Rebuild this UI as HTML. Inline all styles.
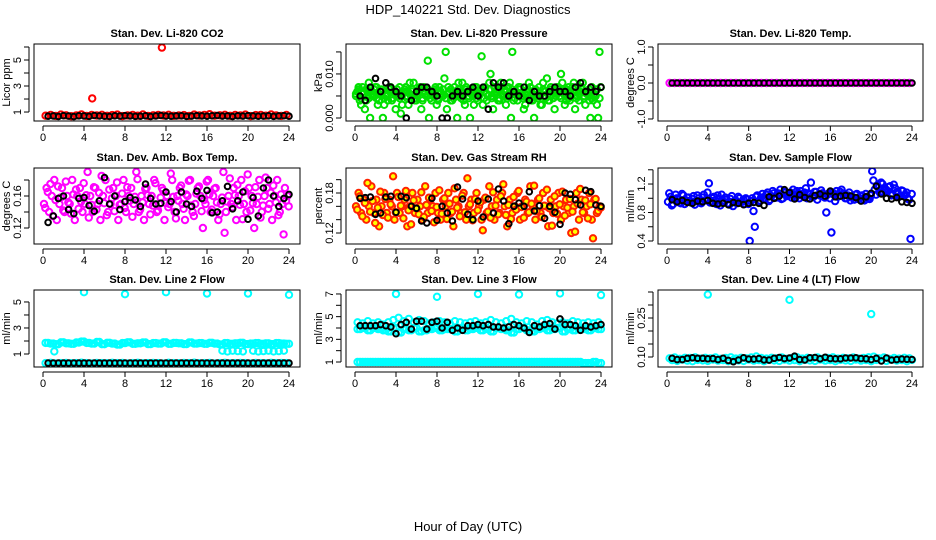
<!DOCTYPE html>
<html><head><meta charset="utf-8"><style>
body{margin:0;background:#fff;}
svg{display:block;font-family:"Liberation Sans",sans-serif;}
</style></head><body>
<svg id="chart" width="936" height="540" viewBox="0 0 936 540">
<text x="468" y="14" text-anchor="middle" font-size="13">HDP_140221 Std. Dev. Diagnostics</text>
<text x="468" y="531" text-anchor="middle" font-size="13">Hour of Day (UTC)</text>
</svg>
<script>
const xTicks=[0,4,8,12,16,20,24];
const co2Red=[0.72,0.78,0.70,0.80,0.75,0.68,0.74,0.82,0.70,0.77,0.73,0.79,0.71,0.76,0.80,0.69,0.74,0.78,0.72,0.81,0.70,0.75,0.77,0.73,0.79,0.71,0.74,0.76,0.70,0.80,0.73,0.78,0.83,0.72,0.75,0.79,0.71,0.77,0.74,0.80,0.69,0.76,0.78,0.72,0.81,0.74,0.70,0.77];
const co2OutHours=[4.8,11.6];
const co2Out=[2.05,5.95];
const co2Black=[0.68,0.70,0.66,0.72,0.69,0.65,0.71,0.70,0.67,0.73,0.70,0.68,0.66,0.71,0.69,0.72,0.70,0.67,0.68,0.71,0.66,0.70,0.73,0.69,0.68,0.70,0.71,0.67,0.69,0.72,0.70,0.68,0.71,0.73,0.69,0.70,0.66,0.71,0.69,0.72,0.70,0.68,0.69,0.71,0.67,0.70,0.72,0.68];
const pressGreenA=[6,4,7,2,6,0,5,7,3,6,0,5,4,7,6,2,5,1,6,7,3,5,8,4,6,2,7,5,0,4,6,3,7,5,9,2,6,4,7,0,5,8,3,6,0,5,7,4,6,3,7,5,10,2,6,4,8,5,3,7,0,4,6,7,5,2,6,8,4,0,5,7,3,6,9,4,6,2,7,5,8,3,6,4,7,2,5,6,8,3,6,0,4,5,0,7];
const pressGreenB=[5,7,3,6,4,8,6,5,7,4,6,3,5,7,4,6,5,7,3,6,5,8,6,4,5,7,4,6,13,6,5,7,4,6,5,15,7,4,6,5,8,6,4,7,5,6,3,7,5,14,6,4,8,5,7,6,4,7,6,5,8,15,6,4,7,5,3,6,7,4,6,5,3,8,6,4,7,6,5,7,10,6,4,7,5,8,6,4,7,5,6,4,7,5,3,15];
const pressGreenC=[5.5,6.5,4.5,5.5,6.5,4.5,5.5,6.5,4.5,5.5,6.5,4.5,5.5,6.5,4.5,5.5,6.5,4.5,5.5,6.5,4.5,5.5,6.5,4.5,5.5,6.5,4.5,5.5,6.5,4.5,5.5,6.5,4.5,5.5,6.5,4.5,5.5,6.5,4.5,5.5,6.5,4.5,5.5,6.5,4.5,5.5,6.5,4.5,5.5,6.5,4.5,5.5,6.5,4.5,5.5,6.5,4.5,5.5,6.5,4.5,5.5,6.5,4.5,5.5,6.5,4.5,5.5,6.5,4.5,5.5,6.5,4.5,5.5,6.5,4.5,5.5,6.5,4.5,5.5,6.5,4.5,5.5,6.5,4.5,5.5,6.5,4.5,5.5,6.5,4.5,5.5,6.5,4.5,5.5,6.5,4.5];
const pressBlack=[5,4,7,9,6,8,7,6,5,0,4,6,7,7,6,5,0,0,5,6,5,6,7,5,7,2,8,7,8,5,6,5,7,4,6,5,5,6,7,6,6,5,7,8,6,7,6,7];
const tempMag=[0,0,0,0,0,0,0,0,0,0,0,0,0,0,0,0,0,0,0,0,0,0,0,0,0,0,0,0,0,0,0,0,0,0,0,0,0,0,0,0,0,0,0,0,0,0,0,0];
const tempBlack=[0,0,0,0,0,0,0,0,0,0,0,0,0,0,0,0,0,0,0,0,0,0,0,0,0,0,0,0,0,0,0,0,0,0,0,0,0,0,0,0,0,0,0,0,0,0,0,0];
const ambA=[.15,.17,.14,.16,.18,.13,.15,.17,.14,.16,.15,.18,.13,.16,.17,.14,.15,.19,.16,.14,.17,.15,.13,.16,.18,.14,.15,.17,.16,.13,.15,.18,.14,.16,.17,.15,.19,.14,.16,.13,.17,.15,.16,.18,.14,.15,.17,.13,.16,.15,.18,.14,.16,.17,.15,.13,.16,.18,.14,.15,.17,.16,.12,.15,.18,.14,.16,.17,.13,.15,.19,.14,.16,.15,.17,.13,.16,.18,.15,.14,.17,.16,.12,.15,.18,.14,.16,.17,.15,.13,.16,.18,.14,.15,.17,.16];
const ambB=[.145,.165,.175,.135,.155,.172,.158,.142,.178,.152,.138,.162,.168,.144,.153,.176,.161,.133,.149,.171,.143,.164,.185,.151,.136,.168,.157,.141,.177,.149,.163,.145,.171,.154,.134,.159,.181,.143,.152,.169,.161,.137,.148,.176,.142,.158,.167,.151,.146,.188,.159,.132,.154,.173,.144,.162,.179,.148,.135,.163,.172,.141,.155,.178,.162,.143,.169,.152,.137,.158,.114,.153,.182,.146,.161,.174,.149,.131,.166,.187,.142,.151,.171,.159,.133,.148,.183,.144,.164,.173,.152,.136,.162,.112,.154,.147];
const ambBlack=[.127,.135,.157,.160,.143,.138,.157,.158,.148,.141,.154,.183,.150,.160,.143,.153,.158,.155,.147,.175,.157,.150,.151,.165,.153,.140,.165,.150,.147,.166,.157,.167,.139,.140,.154,.172,.144,.154,.165,.131,.158,.135,.170,.180,.160,.147,.157,.162];
const rhA=[.16,.18,.15,.17,.14,.16,.19,.15,.17,.13,.16,.18,.15,.17,.16,.14,.18,.15,.16,.17,.13,.16,.18,.15,.17,.16,.14,.19,.15,.17,.16,.18,.15,.14,.17,.16,.18,.15,.13,.17,.16,.15,.18,.14,.16,.17,.15,.18,.16,.14,.17,.15,.19,.16,.14,.17,.15,.18,.16,.13,.17,.15,.16,.18,.14,.16,.17,.15,.19,.16,.14,.17,.15,.18,.16,.13,.17,.15,.16,.18,.14,.16,.17,.15,.12,.16,.18,.14,.17,.15,.16,.18,.14,.17,.15,.16];
const rhB=[.155,.175,.145,.165,.195,.152,.168,.135,.158,.182,.147,.171,.143,.163,.205,.151,.174,.161,.142,.183,.154,.133,.169,.157,.148,.181,.144,.162,.173,.153,.136,.159,.184,.149,.172,.141,.164,.152,.187,.158,.145,.176,.151,.202,.163,.139,.171,.154,.166,.124,.173,.152,.143,.181,.161,.148,.175,.193,.147,.162,.141,.174,.155,.183,.159,.143,.167,.151,.164,.191,.153,.172,.144,.161,.185,.157,.131,.175,.149,.163,.182,.146,.158,.171,.152,.122,.164,.186,.151,.169,.142,.163,.112,.171,.153,.158];
const rhBlack=[.172,.173,.174,.148,.150,.174,.175,.151,.175,.173,.160,.157,.138,.135,.172,.139,.160,.150,.138,.189,.171,.148,.140,.168,.144,.171,.150,.186,.168,.134,.160,.165,.160,.182,.153,.161,.142,.160,.151,.133,.180,.178,.170,.162,.184,.182,.162,.160];
const flowA=[.95,1.02,.92,1.05,.98,.93,1.04,.97,1.01,.94,1.03,.96,1.00,.93,1.05,.97,1.21,.96,1.02,.92,.99,1.05,.94,.98,.91,1.03,.96,.93,1.00,.95,.92,.98,.40,1.00,.60,1.04,.97,1.06,1.00,1.08,.98,1.10,1.02,1.07,1.12,1.00,1.09,1.04,1.08,1.12,1.01,1.06,1.10,1.03,1.14,1.07,1.22,1.02,1.09,1.05,1.11,1.03,.80,1.07,.52,1.05,1.10,1.03,1.12,1.06,1.00,1.08,1.02,.98,1.06,1.00,1.04,.97,1.02,.99,1.38,1.12,1.18,1.08,1.20,1.13,1.10,1.17,1.06,1.14,1.09,1.03,1.10,1.05,1.00,.43];
const flowB=[1.07,.90,.98,1.00,.94,1.06,.92,1.01,.96,.99,.91,1.04,.95,1.01,.97,1.08,.94,1.00,.97,1.04,.90,.96,1.01,.93,.99,.89,.97,1.02,.94,.98,1.00,.92,.96,.82,1.02,.95,1.01,.99,1.05,.96,1.03,1.07,1.01,1.04,.99,1.08,1.03,1.06,1.01,1.05,1.10,1.00,1.04,1.08,1.00,1.05,1.03,1.09,.98,1.04,1.07,1.01,1.05,1.00,1.08,.96,1.02,1.09,1.06,1.00,1.04,.97,1.01,1.05,.99,1.03,.98,1.06,1.00,1.04,1.25,1.05,1.15,1.22,1.07,1.12,1.16,1.04,1.19,1.08,1.02,1.11,1.04,1.08,.98,1.06];
const flowBlack=[.98,.95,.97,.94,.93,.96,.95,.97,.93,.92,.93,.91,.94,.93,.91,.93,.94,.93,.90,1.02,1.00,1.03,1.12,1.08,.99,1.05,1.01,.99,1.04,1.06,1.03,1.10,1.02,1.03,1.04,1.03,1.01,.96,1.02,1.07,1.17,1.06,1.00,.99,1.01,.95,.94,.93];
const l2Upper=[1.85,1.80,1.75,1.90,1.82,1.78,1.88,1.95,1.85,1.80,1.92,1.75,1.86,1.80,1.72,1.84,1.90,1.78,1.82,1.88,1.76,1.84,1.80,1.90,1.78,1.85,1.82,1.76,1.88,1.80,1.84,1.78,1.86,1.80,1.74,1.84,1.78,1.82,1.86,1.76,1.80,1.84,1.78,1.82,1.76,1.84,1.80,1.78];
const l2Lower=[.30,.32,.28,.30,.31,.29,.30,.33,.30,.28,.31,.30,.29,.32,.30,.31,.28,.30,.32,.29,.30,.31,.30,.28,.32,.30,.29,.31,.30,.33,.29,.30,.31,.28,.30,.32,.29,.30,.31,.30,.28,.31,.30,.29,.32,.30,.31,.30];
const l2MidHours=[1.1,17.5,18,18.5,19,19.5,20.5,21,21.5,22,22.5,23,23.5];
const l2Mid=[1.2,1.25,1.2,1.25,1.22,1.2,1.25,1.2,1.22,1.25,1.2,1.22,1.25];
const l2OutHours=[4,8,12,16,20,24];
const l2Out=[5.75,5.6,5.75,5.65,5.65,5.55];
const l2Black=[.30,.30,.31,.30,.30,.31,.30,.30,.30,.31,.30,.30,.30,.30,.31,.30,.30,.30,.30,.31,.30,.30,.31,.30,.30,.30,.30,.31,.30,.30,.30,.30,.31,.30,.30,.30,.30,.31,.30,.30,.30,.30,.30,.31,.30,.30,.30,.30];
const l3Upper=[4.5,4.4,4.6,4.4,4.5,4.3,4.5,4.7,4.9,4.6,4.8,4.5,4.7,4.6,4.4,4.5,4.6,4.5,4.4,4.6,4.5,4.4,4.5,4.6,4.4,4.5,4.7,4.5,4.4,4.6,4.8,4.5,4.4,4.6,4.5,4.3,4.6,4.7,4.5,4.4,4.5,4.4,4.6,4.5,4.4,4.5,4.4,4.5];
const l3Mid=[3.9,4.0,3.8,4.0,3.9,3.8,3.7,4.0,3.6,3.9,3.8,4.0,3.7,3.8,3.9,4.0,3.8,3.9,3.9,3.7,4.0,3.8,3.9,4.0,3.8,3.9,3.7,4.0,3.9,3.8,3.6,3.9,4.0,3.8,3.7,3.9,4.0,3.8,3.9,4.0,3.7,3.9,3.8,4.0,3.9,3.8,4.0,3.9];
const l3Lower=[1,1,1,1,1,1,1,1,1,1,1,1,1,1,1,1,1,1,1,1,1,1,1,1,1,1,1,1,1,1,1,1,1,1,1,1,1,1,1,1,1,1,1,1,.9,.9,1,.9];
const l3OutHours=[4,8,12,16,20,24];
const l3Out=[7.0,6.75,7.0,6.95,7.05,6.9];
const l3Black=[4.2,4.2,4.2,4.2,4.3,4.2,4.1,3.5,4.3,4.5,3.9,4.6,4.6,3.9,4.5,4.6,4.0,4.5,3.8,4.0,3.8,4.2,4.2,4.3,4.2,4.3,4.1,4.1,4.0,4.1,4.3,4.2,4.0,3.6,4.2,4.1,4.3,4.4,3.9,4.8,4.3,4.3,4.2,3.8,4.2,4.1,4.2,4.3];
const l4A=[.095,.098,.093,.097,.096,.099,.094,.097,.095,.098,.093,.096,.099,.094,.097,.095,.098,.102,.096,.094,.097,.095,.098,.093,.096,.099,.094,.097,.095,.098,.093,.096,.099,.094,.097,.095,.098,.094,.096,.099,.101,.095,.098,.093,.096,.094,.097,.095];
const l4B=[.088,.085,.090,.086,.084,.089,.087,.085,.090,.086,.088,.084,.089,.087,.085,.090,.086,.088,.084,.089,.087,.085,.090,.086,.088,.084,.089,.087,.085,.090,.086,.088,.084,.089,.087,.085,.090,.086,.088,.084,.089,.087,.085,.090,.086,.088,.084,.089];
const l4OutHours=[4,12,20];
const l4Out=[.34,.32,.265];
const l4Black=[.095,.09,.09,.095,.097,.095,.095,.093,.094,.09,.095,.087,.082,.088,.097,.092,.092,.094,.089,.088,.095,.098,.094,.096,.103,.09,.089,.097,.098,.093,.099,.094,.093,.093,.096,.096,.097,.094,.093,.09,.095,.085,.096,.088,.09,.092,.091,.09];

const NS='http://www.w3.org/2000/svg';
const svg=document.getElementById('chart');
function mk(tag,attrs,parent){const e=document.createElementNS(NS,tag);for(const k in attrs)e.setAttribute(k,attrs[k]);(parent||svg).appendChild(e);return e;}
const colL=[34,346,658],colR=[300,612,923];
const rowT=[44,168,290],rowB=[121,244,367];
function halfHours(n,start){const h=[];for(let i=0;i<n;i++)h.push(start+i*0.5);return h;}
function quarterHours(n,start){const h=[];for(let i=0;i<n;i++)h.push(start+i*0.25);return h;}
const H48=halfHours(48,0.25), HB=halfHours(48,0.5), H96=quarterHours(96,0.1), H96b=quarterHours(96,0.22);
const panels=[
 {c:0,r:0,name:'co2',title:'Stan. Dev. Li-820 CO2',ylab:'Licor ppm',ymin:0.31,ymax:6.23,ticks:[1,2,3,4,5,6],labs:{1:'1',3:'3',5:'5'},
  series:[{h:H48,v:co2Red,s:'#ff0000',f:'none'},{h:co2OutHours,v:co2Out,s:'#ff0000',f:'none'},{h:HB,v:co2Black,s:'#000',f:'none',b:1}]},
 {c:1,r:0,name:'pressure',title:'Stan. Dev. Li-820 Pressure',ylab:'kPa',ymin:-0.68,ymax:16.8,ticks:[0,5,10,15],labs:{0:'0.000',10:'0.010'},
  series:[{h:H96,v:pressGreenC,s:'#00e000',f:'none'},{h:H96b,v:pressGreenA,s:'#00e000',f:'none'},{h:H96,v:pressGreenB,s:'#00e000',f:'none'},{h:HB,v:pressBlack,s:'#000',f:'none',b:1}]},
 {c:2,r:0,name:'temp',title:'Stan. Dev. Li-820 Temp.',ylab:'degrees C',ymin:-1.056,ymax:1.083,ticks:[-1,-0.5,0,0.5,1],labs:{'-1':'-1.0','0':'0.0','1':'1.0'},
  series:[{h:H48,v:tempMag,s:'#ff00ff',f:'none'},{h:HB,v:tempBlack,s:'#000',f:'none',b:1}]},
 {c:0,r:1,name:'amb-temp',title:'Stan. Dev. Amb. Box Temp.',ylab:'degrees C',ymin:0.10,ymax:0.195,ticks:[.12,.14,.16,.18],labs:{'0.12':'0.12','0.16':'0.16'},
  series:[{h:H96,v:ambA,s:'#ff00ff',f:'none'},{h:H96b,v:ambB,s:'#ff00ff',f:'none'},{h:HB,v:ambBlack,s:'#000',f:'none',b:1}]},
 {c:1,r:1,name:'rh',title:'Stan. Dev. Gas Stream RH',ylab:'percent',ymin:0.1035,ymax:0.2175,ticks:[.12,.14,.16,.18,.20],labs:{'0.12':'0.12','0.18':'0.18'},
  series:[{h:H96,v:rhA,s:'#ff2200',f:'#ffff00'},{h:H96b,v:rhB,s:'#ff2200',f:'#ffff00'},{h:HB,v:rhBlack,s:'#000',f:'none',b:1}]},
 {c:2,r:1,name:'sample-flow',title:'Stan. Dev. Sample Flow',ylab:'ml/min',ymin:0.358,ymax:1.425,ticks:[.4,.6,.8,1.0,1.2,1.4],labs:{'0.4':'0.4','0.8':'0.8','1.2':'1.2'},
  series:[{h:H96,v:flowA,s:'#0000ff',f:'none'},{h:H96b,v:flowB,s:'#0000ff',f:'none'},{h:HB,v:flowBlack,s:'#000',f:'none',b:1}]},
 {c:0,r:2,name:'line2',title:'Stan. Dev. Line 2 Flow',ylab:'ml/min',ymin:0,ymax:5.92,ticks:[1,2,3,4,5],labs:{1:'1',3:'3',5:'5'},
  series:[{h:H48,v:l2Upper,s:'#00ffff',f:'none'},{h:HB,v:l2Upper,s:'#00ffff',f:'none'},{h:H48,v:l2Lower,s:'#00ffff',f:'none'},{h:l2MidHours,v:l2Mid,s:'#00ffff',f:'none'},{h:l2OutHours,v:l2Out,s:'#00ffff',f:'none'},{h:HB,v:l2Black,s:'#000',f:'none',b:1}]},
 {c:1,r:2,name:'line3',title:'Stan. Dev. Line 3 Flow',ylab:'ml/min',ymin:0.56,ymax:7.35,ticks:[1,2,3,4,5,6,7],labs:{1:'1',3:'3',5:'5',7:'7'},
  series:[{h:H48,v:l3Upper,s:'#00ffff',f:'none'},{h:HB,v:l3Mid,s:'#00ffff',f:'none'},{h:H48,v:l3Mid,s:'#00ffff',f:'none'},{h:H48,v:l3Lower,s:'#00ffff',f:'none'},{h:HB,v:l3Lower,s:'#00ffff',f:'none'},{h:l3OutHours,v:l3Out,s:'#00ffff',f:'none'},{h:HB,v:l3Black,s:'#000',f:'none',b:1}]},
 {c:2,r:2,name:'line4',title:'Stan. Dev. Line 4 (LT) Flow',ylab:'ml/min',ymin:0.0615,ymax:0.3577,ticks:[.10,.15,.20,.25,.30,.35],labs:{'0.1':'0.10','0.25':'0.25'},
  series:[{h:H48,v:l4A,s:'#00ffff',f:'none'},{h:HB,v:l4B,s:'#00ffff',f:'none'},{h:l4OutHours,v:l4Out,s:'#00ffff',f:'none'},{h:HB,v:l4Black,s:'#000',f:'none',b:1}]}
];
panels.forEach(p=>{
  const L=colL[p.c],R=colR[p.c],T=rowT[p.r],B=rowB[p.r];
  const g=mk('g',{});
  
  
  const xs=h=>L+9+(h/24)*(R-L-20);
  const ys=v=>B-(v-p.ymin)/(p.ymax-p.ymin)*(B-T);
  const t=mk('text',{x:(L+R)/2,y:T-7,'text-anchor':'middle','font-size':'11','font-weight':'bold'},g);
  t.textContent=p.title;
  
  
  const clip=mk('clipPath',{id:'clip-'+p.name},g);
  mk('rect',{x:L,y:T,width:R-L,height:B-T},clip);
  const pts=mk('g',{'clip-path':'url(#clip-'+p.name+')'},g);
  
  
  p.series.forEach(s=>{
    s.v.forEach((v,i)=>{
      const c=mk('circle',{cx:xs(s.h[i]).toFixed(1),cy:ys(v).toFixed(1),r:s.b?2.8:3.2,fill:s.f,stroke:s.s,'stroke-width':2},pts);
      
      
    });
  });
  const box=mk('rect',{x:L,y:T,width:R-L,height:B-T,fill:'none',stroke:'#000','stroke-width':1},g);
  
  
  mk('line',{x1:xs(0),x2:xs(24),y1:B+5,y2:B+5,stroke:'#000'},g);
  xTicks.forEach(h=>{
    mk('line',{x1:xs(h),x2:xs(h),y1:B+5,y2:B+10,stroke:'#000'},g);
    const tl=mk('text',{x:xs(h),y:B+20,'text-anchor':'middle','font-size':'11'},g);
    tl.textContent=h;
    
    
  });
  mk('line',{x1:L-5,x2:L-5,y1:ys(p.ticks[0]),y2:ys(p.ticks[p.ticks.length-1]),stroke:'#000'},g);
  p.ticks.forEach(v=>{
    mk('line',{x1:L-10,x2:L-5,y1:ys(v),y2:ys(v),stroke:'#000'},g);
    const key=String(v);
    if(p.labs[key]!==undefined){
      const yl=mk('text',{x:0,y:0,'text-anchor':'middle','font-size':'11',transform:'translate('+(L-13)+','+ys(v).toFixed(1)+') rotate(-90)'},g);
      yl.textContent=p.labs[key];
      
      
    }
  });
  const yt=mk('text',{x:0,y:0,'text-anchor':'middle','font-size':'11',transform:'translate('+(L-24)+','+((T+B)/2)+') rotate(-90)'},g);
  yt.textContent=p.ylab;
  
  
});
</script>
</body></html>
